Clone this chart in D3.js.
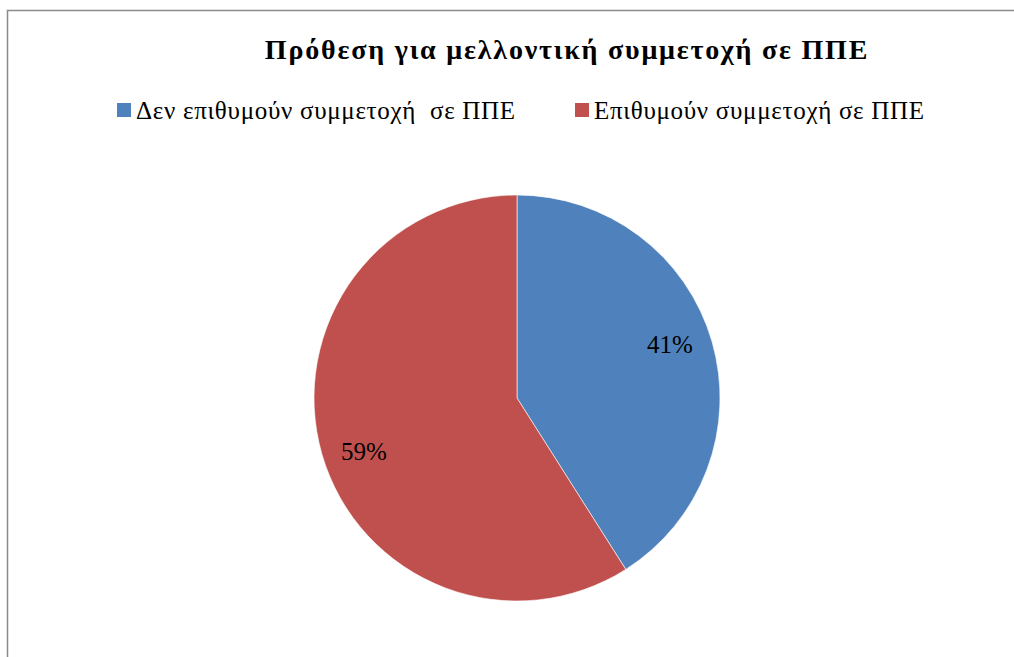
<!DOCTYPE html>
<html>
<head>
<meta charset="utf-8">
<script src="https://cdn.jsdelivr.net/npm/d3@7"></script>
<style>
  html, body { margin: 0; padding: 0; background: #fff; }
  svg { display: block; }
</style>
</head>
<body>
<svg id="chart" width="1014" height="657"></svg>
<script>
// Chart data
const categories = ["Δεν επιθυμούν συμμετοχή  σε ΠΠΕ", "Επιθυμούν συμμετοχή σε ΠΠΕ"];
const values = [41, 59];
const colors = ["#4F81BD", "#C0504D"];
const title = "Πρόθεση για μελλοντική συμμετοχή σε ΠΠΕ";

const W = 1014, H = 657;
const svg = d3.select("#chart");
const font = "Liberation Serif, Times New Roman, serif";

// Chart area frame (extends past the right and bottom edges)
svg.append("rect")
  .attr("x", 7.5).attr("y", 10.5)
  .attr("width", W + 20).attr("height", H + 20)
  .attr("fill", "#fff")
  .attr("stroke", "#8a8a8a")
  .attr("stroke-width", 1.5);

// Title
svg.append("text")
  .attr("x", 567).attr("y", 59)
  .attr("text-anchor", "middle")
  .style("font-family", font)
  .style("font-weight", "bold")
  .style("font-size", "28px")
  .style("letter-spacing", "1.8px")
  .attr("fill", "#000")
  .text(title);

// Legend
const legendX = [117, 575];
const legend = svg.append("g");
categories.forEach((name, i) => {
  legend.append("rect")
    .attr("x", legendX[i]).attr("y", 103)
    .attr("width", 14).attr("height", 14)
    .attr("fill", colors[i]);
  legend.append("text")
    .attr("x", legendX[i] + 19).attr("y", 119)
    .style("font-family", font)
    .style("font-size", "25px")
    .style("letter-spacing", "0.7px")
    .style("white-space", "pre")
    .attr("fill", "#000")
    .text(name);
});

// Pie
const cx = 517, cy = 398, r = 203;
const pie = d3.pie().sort(null).value(d => d)(values);
const arc = d3.arc().innerRadius(0).outerRadius(r);
const g = svg.append("g").attr("transform", `translate(${cx},${cy})`);

g.selectAll("path.slice")
  .data(pie)
  .join("path")
  .attr("class", "slice")
  .attr("d", arc)
  .attr("fill", (d, i) => colors[i])
  .attr("stroke", "#fff")
  .attr("stroke-width", 0.6);

// Percentage labels inside the slices
const labelR = 162;
const labelTurn = 3 * Math.PI / 180;
g.selectAll("text.pct")
  .data(pie)
  .join("text")
  .attr("class", "pct")
  .attr("transform", d => {
    const [x, y] = d3.pointRadial((d.startAngle + d.endAngle) / 2 - labelTurn, labelR);
    return `translate(${x},${y})`;
  })
  .attr("text-anchor", "middle")
  .attr("dy", "0.35em")
  .style("font-family", font)
  .style("font-size", "25px")
  .attr("fill", "#000")
  .text(d => d.data + "%");
</script>
</body>
</html>
